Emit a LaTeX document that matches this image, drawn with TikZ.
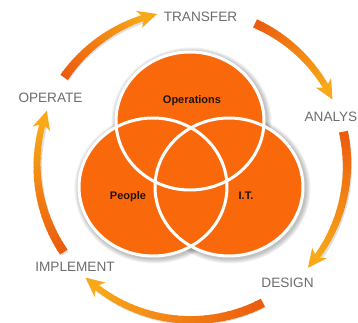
\documentclass[tikz,border=0pt]{standalone}
\usepackage{fontspec}
\setmainfont{Liberation Sans}
\usepackage{tikz}
\definecolor{vennorange}{RGB}{250,104,12}
\definecolor{tailorange}{RGB}{236,92,14}
\definecolor{headorange}{RGB}{248,168,24}
\definecolor{phasegray}{RGB}{108,108,108}
\definecolor{zonetext}{RGB}{35,20,10}
\tikzstyle{phaselabel} = [inner sep=0,text=phasegray,font=\fontsize{13.6}{16}\selectfont]
\tikzstyle{zonelabel} = [inner sep=0,text=zonetext,font=\bfseries\fontsize{11}{13}\selectfont]
\tikzstyle{venn} = [fill=vennorange]
\tikzstyle{rim} = [draw=white,line width=3pt]
% tapered arc arrow on the ring: #1 tail angle, #2 tip angle (clockwise)
\newcommand{\cyclearrow}[2]{%
  \pgfmathsetmacro{\bodyend}{#2+5}
  \draw[line width=7pt,black,opacity=0.12]
    ([shift={(1.5,-1.5)}]ringc) ++(#1:155) arc[start angle=#1,end angle=\bodyend,radius=155];
  \foreach \k in {0,...,29}{
    \pgfmathsetmacro{\aa}{#1+(\bodyend-#1)*\k/30}
    \pgfmathsetmacro{\ab}{#1+(\bodyend-#1)*(\k+1.3)/30}
    \pgfmathsetmacro{\wd}{9-3*\k/29}
    \pgfmathtruncatemacro{\mix}{100*\k/29}
    \draw[line width=\wd pt,color=headorange!\mix!tailorange]
      ([shift={(\aa:155)}]ringc) arc[start angle=\aa,end angle=\ab,radius=155];
  }
  \fill[headorange] ([shift={(#2:155)}]ringc) -- ([shift={(#2+7:164)}]ringc)
    -- ([shift={(#2+5:155)}]ringc) -- ([shift={(#2+7:146)}]ringc) -- cycle;
}

\begin{document}
\begin{tikzpicture}[x=1pt,y=1pt]
  \useasboundingbox[fill=white] (0,0) rectangle (358,323);
  \coordinate (ringc) at (192,158);
  \coordinate (ops) at (190,202);
  \coordinate (ppl) at (153,136);
  \coordinate (itc) at (229,136);

  % soft shadow under the three sets
  \foreach \c in {ops,ppl,itc}{
    \foreach \g in {1,...,5}{
      \fill[black,opacity=0.05] ([shift={(1.5,-1.5)}]\c) ellipse [x radius=75+\g,y radius=70+\g];
    }
  }
  \foreach \c in {ops,ppl,itc}{
    \fill[venn] (\c) ellipse [x radius=74,y radius=69];
  }
  \foreach \c in {ops,ppl,itc}{
    \draw[rim] (\c) ellipse [x radius=74,y radius=69];
  }
  \node[zonelabel,anchor=base] (operations) at (192,219.5) {Operations};
  \node[zonelabel,anchor=base] (people) at (128,123) {People};
  \node[zonelabel,anchor=base] (it) at (246,123) {I.T.};

  % phases round the ring
  \node[phaselabel] (transfer) at (200.5,306.5) {TRANSFER};
  \node[phaselabel,anchor=east] (analysis) at (357.5,206) {ANALYS};
  \node[phaselabel] (design) at (287.5,40) {DESIGN};
  \node[phaselabel] (implement) at (75,56) {IMPLEMENT};
  \node[phaselabel] (operate) at (50.5,225.5) {OPERATE};

  \cyclearrow{145.6}{103}
  \cyclearrow{66}{25}
  \cyclearrow{12.4}{-41.6}
  \cyclearrow{-62.8}{-133.4}
  \cyclearrow{214.2}{159.5}
\end{tikzpicture}
\end{document}
